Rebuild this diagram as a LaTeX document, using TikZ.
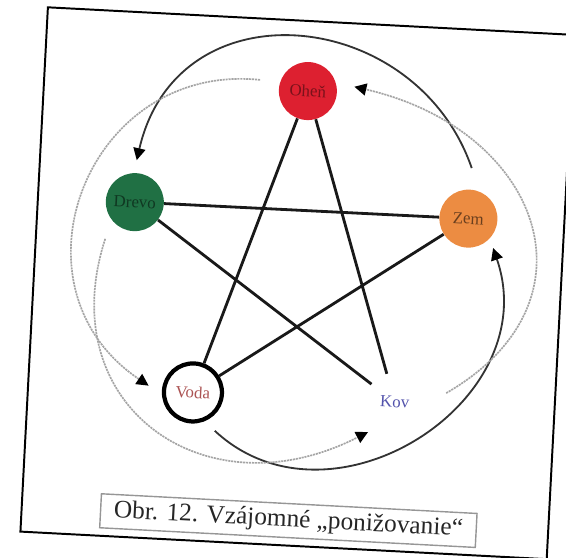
\documentclass[tikz,border=0pt]{standalone}
\usepackage{fontspec}
\setmainfont{Liberation Serif}
\usetikzlibrary{arrows.meta}
\definecolor{ohenred}{RGB}{221,32,48}
\definecolor{drevogreen}{RGB}{32,112,68}
\definecolor{zemorange}{RGB}{236,140,66}
\definecolor{arcgray}{RGB}{165,165,165}
\definecolor{boxgray}{RGB}{150,150,150}

\begin{document}
\begin{tikzpicture}[x=0.025cm,y=0.025cm,
  element/.style={circle,minimum size=1.45cm,inner sep=0pt,font=\fontsize{12}{14}\selectfont},
  starline/.style={line width=2pt,black!90},
  solidarc/.style={line width=1.3pt,black!80,-{Triangle[length=3mm,width=3mm,black]}},
  dotarc/.style={line width=1.2pt,arcgray,dash pattern=on 1.5pt off 0.6pt,-{Triangle[length=3mm,width=3mm,black]}}]
\useasboundingbox (0,0) rectangle (566,558);
\clip (0,0) rectangle (566,558);

\begin{scope}[rotate around={-3:(283,279)},transform shape]
% ============ frame ============
\draw[line width=1.4pt] (34,13) rectangle (561,538);

% ============ five elements ============
\node[element,fill=ohenred,text=ohenred!55!black] (ohen) at (298,468) {Oheň};
\node[element,fill=drevogreen,text=drevogreen!50!black] (drevo) at (131,348) {Drevo};
\node[element,fill=zemorange,text=zemorange!45!black] (zem) at (465,349) {Zem};
\node[element,fill=white,draw=black,line width=3pt,text=red!35!gray] (voda) at (199,161) {Voda};
\node[element,fill=white,text=blue!35!gray] (kov) at (401,162) {Kov};

% star
\draw[starline] (ohen) -- (voda) -- (zem) -- (drevo) -- (kov) -- (ohen);

% solid arcs
\draw[solidarc,shorten <=6.25mm,shorten >=3.25mm] (zem.70) to[out=112,in=80,looseness=1.44] (drevo.95);
\draw[solidarc,shorten <=3.5mm,shorten >=2.5mm] (voda.-65) to[out=-40,in=-68,looseness=1.3] (zem.-40);

% dotted arcs
\draw[dotarc,shorten <=6.5mm,shorten >=4.75mm] (kov.-5) to[out=33,in=-10,looseness=1.6] (ohen.20);
\draw[dotarc,shorten <=5mm,shorten >=4mm] (ohen.165) to[out=177,in=149,looseness=1.48] (voda.187);
\draw[dotarc,shorten <=5mm,shorten >=3mm] (drevo.220) to[out=255,in=210,looseness=1.48] (kov.240);

% caption
\node[draw=boxgray,line width=1pt,minimum width=9.4cm,minimum height=0.85cm,inner sep=0pt,
  font=\fontsize{18}{21}\selectfont,text=black!85] (caption) at (301,38) {Obr. 12. Vzájomné „ponižovanie“};
\end{scope}

\end{tikzpicture}
\end{document}
